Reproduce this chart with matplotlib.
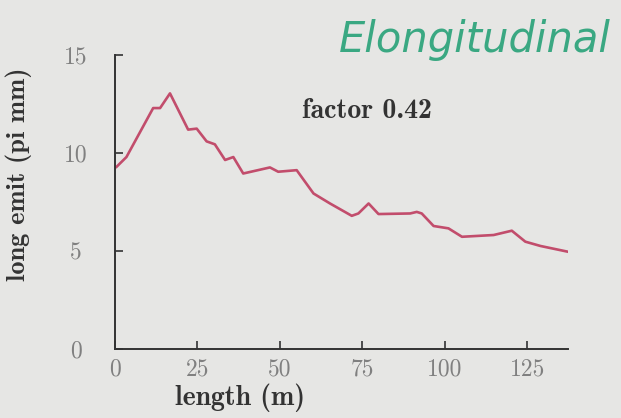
import matplotlib
matplotlib.use("Agg")
import matplotlib.pyplot as plt

# values
length_m = [0.5, 3.5, 11.6, 13.7, 16.7, 22.2, 24.8, 27.8, 30.3, 33.4, 35.9, 38.9,
            47.0, 49.5, 55.1, 60.2, 65.2, 71.8, 73.8, 76.9, 79.9, 89.5, 91.5, 93.0,
            96.6, 101.1, 105.2, 114.8, 120.3, 124.4, 129.0, 137.5]
long_emit = [9.3, 9.8, 12.3, 12.3, 13.05, 11.2, 11.25, 10.6, 10.45, 9.65, 9.8, 8.96,
             9.27, 9.05, 9.13, 7.94, 7.43, 6.8, 6.92, 7.43, 6.89, 6.92, 7.0, 6.92,
             6.28, 6.16, 5.73, 5.82, 6.04, 5.48, 5.26, 4.96]
x_ticks = [0, 25, 50, 75, 100, 125]
y_ticks = [0, 5, 10, 15]

bg = '#e6e6e4'
fig = plt.figure(figsize=(6.21, 4.18), dpi=100, facecolor=bg)
ax = fig.add_axes([0.185, 0.165, 0.73, 0.703], facecolor=bg)

ax.plot(length_m, long_emit, color='#c24d6c', linewidth=1.9)

ax.set_xlim(0, 137.4)
ax.set_ylim(0, 15)
ax.set_xticks(x_ticks)
ax.set_yticks(y_ticks)
for s in ['top', 'right']:
    ax.spines[s].set_visible(False)
for s in ['left', 'bottom']:
    ax.spines[s].set_color('#333333')
    ax.spines[s].set_linewidth(1.4)
ax.tick_params(direction='in', length=6, width=1.2, color='#333333',
               labelcolor='#808080', labelsize=17)
ax.tick_params(axis='x', pad=7)
ax.tick_params(axis='y', pad=28)
for lab in ax.get_xticklabels() + ax.get_yticklabels():
    lab.set_family('cmr10')
for lab in ax.get_yticklabels():
    lab.set_horizontalalignment('center')

ax.set_xlabel('length (m)', family='cmb10', fontsize=20, color='#333333',
              x=0.276, labelpad=2)
ax.set_ylabel('long emit (pi mm)', family='cmb10', fontsize=19, color='#333333')
ax.yaxis.set_label_coords(-0.183, 0.595)
ax.text(0.556, 0.81, 'factor 0.42', transform=ax.transAxes, family='cmb10',
        fontsize=20, color='#333333', ha='center', va='center')

fig.text(0.765, 0.905, 'Elongitudinal', family='DejaVu Sans', style='italic',
         fontsize=30, color='#3aa882', ha='center', va='center')

fig.savefig('out.png', dpi=100, facecolor=bg)
